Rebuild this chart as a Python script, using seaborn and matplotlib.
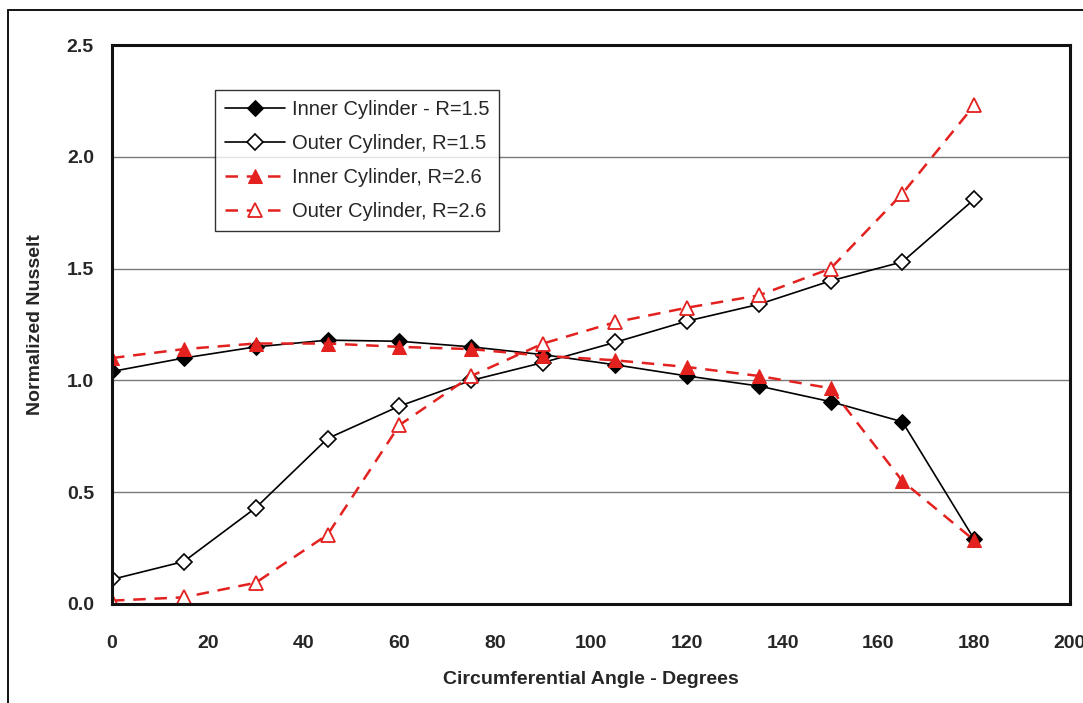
import matplotlib
matplotlib.use("Agg")
import matplotlib.pyplot as plt
from matplotlib.patches import Rectangle
import seaborn as sns
import numpy as np

angle = [0, 15, 30, 45, 60, 75, 90, 105, 120, 135, 150, 165, 180]
inner_15 = [1.04, 1.10, 1.15, 1.18, 1.175, 1.15, 1.115, 1.07, 1.02, 0.975, 0.905, 0.815, 0.29]
outer_15 = [0.11, 0.19, 0.43, 0.74, 0.885, 1.00, 1.08, 1.17, 1.265, 1.34, 1.445, 1.53, 1.81]
inner_26 = [1.10, 1.14, 1.165, 1.165, 1.15, 1.14, 1.11, 1.09, 1.06, 1.02, 0.965, 0.55, 0.285]
outer_26 = [0.015, 0.03, 0.095, 0.31, 0.80, 1.02, 1.165, 1.26, 1.325, 1.38, 1.50, 1.835, 2.23]

labels = ["Inner Cylinder - R=1.5", "Outer Cylinder, R=1.5",
          "Inner Cylinder, R=2.6", "Outer Cylinder, R=2.6"]

sns.set_style("white")
plt.rcParams['font.family'] = ['Liberation Sans', 'DejaVu Sans']

red = '#e3211f'

fig = plt.figure(figsize=(10.83, 7.03), dpi=100)
ax = fig.add_axes([112 / 1083, 1 - 604 / 703, 958 / 1083, 559 / 703])

# outer chart border (cut off at right / bottom like the scan)
fig.patches.append(Rectangle((8 / 1083, -0.02), 1.1, 1 - 10 / 703 + 0.02,
                             transform=fig.transFigure, fill=False,
                             edgecolor='black', lw=1.3, zorder=0))

ax.yaxis.grid(True, color='#7a7a7a', lw=1.0)
ax.set_axisbelow(True)

sns.lineplot(x=angle, y=inner_15, ax=ax, color='black', lw=1.2, marker='D',
             ms=8, mfc='black', mec='black', label=labels[0])
sns.lineplot(x=angle, y=outer_15, ax=ax, color='black', lw=1.2, marker='D',
             ms=8, mfc='white', mec='black', mew=1.2, label=labels[1])
sns.lineplot(x=angle, y=inner_26, ax=ax, color=red, lw=1.8, marker='^',
             ms=10, mfc=red, mec=red, dashes=(5, 3.5), label=labels[2])
sns.lineplot(x=angle, y=outer_26, ax=ax, color=red, lw=1.8, marker='^',
             ms=10, mfc='white', mec=red, mew=1.3, dashes=(5, 3.5), label=labels[3])

ax.set_xlim(0, 200)
ax.set_ylim(0, 2.5)
ax.set_xticks(np.arange(0, 201, 20))
ax.set_yticks(np.arange(0, 2.51, 0.5))
ax.set_yticklabels([f"{v:.1f}" for v in np.arange(0, 2.51, 0.5)])

for s in ax.spines.values():
    s.set_color('#111111')
    s.set_linewidth(2.2)

ax.tick_params(axis='both', which='both', direction='out', length=5, width=1,
               color='#333333', labelsize=14, pad=8)
for t in ax.get_xticklabels() + ax.get_yticklabels():
    t.set_fontweight('bold')
ax.tick_params(axis='x', pad=17)

ax.set_xlabel("Circumferential Angle - Degrees", fontsize=14, fontweight='bold', labelpad=14)
ax.set_ylabel("Normalized Nusselt", fontsize=14, fontweight='bold', labelpad=16)

leg = ax.legend(loc='upper left', bbox_to_anchor=(0.1075, 0.92), borderaxespad=0,
                fontsize=14.5, frameon=True, fancybox=False, edgecolor='black',
                handlelength=3.0, borderpad=0.5, labelspacing=0.75, handletextpad=0.3)
leg.get_frame().set_linewidth(1.0)

fig.savefig("out.png", dpi=100)
